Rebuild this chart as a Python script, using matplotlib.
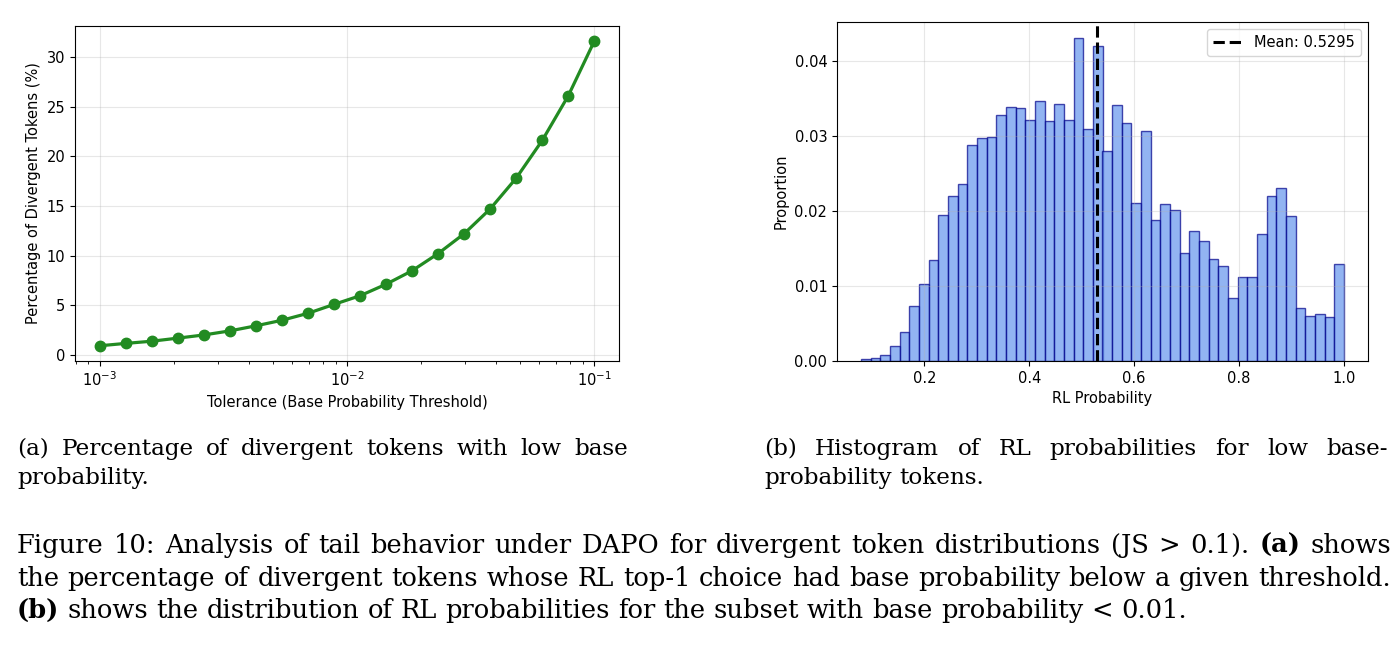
import numpy as np
import matplotlib
matplotlib.use("Agg")
import matplotlib.pyplot as plt

# (a) tolerance thresholds and % of divergent tokens below them
tolerance = [0.001, 0.001274, 0.001624, 0.002069, 0.002637, 0.003360, 0.004281,
             0.005456, 0.006952, 0.008859, 0.011288, 0.014384, 0.018330, 0.023357,
             0.029764, 0.037927, 0.048329, 0.061585, 0.078476, 0.1]
pct_divergent = [0.91, 1.15, 1.37, 1.68, 2.00, 2.41, 2.92, 3.48, 4.18, 5.08,
                 5.95, 7.11, 8.47, 10.2, 12.2, 14.7, 17.8, 21.6, 26.1, 31.6]

# (b) histogram of RL probabilities (50 bins, proportion per bin)
bin_lo = 0.0794
bin_hi = 1.0
proportion = [0.0002, 0.0004, 0.0008, 0.0020, 0.0039, 0.0073, 0.0102, 0.0135, 0.0194, 0.0220,
              0.0236, 0.0288, 0.0297, 0.0299, 0.0328, 0.0338, 0.0337, 0.0321, 0.0346, 0.0319,
              0.0342, 0.0321, 0.0430, 0.0309, 0.0420, 0.0280, 0.0341, 0.0317, 0.0210, 0.0306,
              0.0188, 0.0209, 0.0201, 0.0144, 0.0173, 0.0160, 0.0136, 0.0126, 0.0084, 0.0112,
              0.0112, 0.0169, 0.0220, 0.0230, 0.0193, 0.0071, 0.0060, 0.0062, 0.0058, 0.0129]
mean_rl = 0.5295

sub_a = ["(a) Percentage of divergent tokens with low base", "probability."]
sub_b = ["(b) Histogram of RL probabilities for low base-", "probability tokens."]
caption = ["Figure 10: Analysis of tail behavior under DAPO for divergent token distributions (JS > 0.1). **(a)** shows",
           "the percentage of divergent tokens whose RL top-1 choice had base probability below a given threshold.",
           "**(b)** shows the distribution of RL probabilities for the subset with base probability < 0.01."]

W, H = 1398, 661
fig = plt.figure(figsize=(W / 100, H / 100), dpi=100)
fs = 10.5


def px_axes(x0, y0, x1, y1):
    return fig.add_axes([x0 / W, 1 - y1 / H, (x1 - x0) / W, (y1 - y0) / H])


# left panel
ax1 = px_axes(75, 26, 619, 361)
ax1.plot(tolerance, pct_divergent, "o-", color="forestgreen", lw=2.3, markersize=7.5)
ax1.set_xscale("log")
ax1.set_xlabel("Tolerance (Base Probability Threshold)", fontsize=fs)
ax1.set_ylabel("Percentage of Divergent Tokens (%)", fontsize=fs)
ax1.tick_params(labelsize=fs)
ax1.grid(True, alpha=0.3)

# right panel
ax2 = px_axes(837, 22, 1368, 361)
edges = np.linspace(bin_lo, bin_hi, len(proportion) + 1)
centers = (edges[:-1] + edges[1:]) / 2
ax2.hist(centers, bins=edges, weights=proportion, color="cornflowerblue", alpha=0.7,
         edgecolor="darkblue", linewidth=1.0)
ax2.axvline(mean_rl, color="black", linestyle="--", lw=2.2, label=f"Mean: {mean_rl:.4f}")
ax2.set_xlabel("RL Probability", fontsize=fs)
ax2.set_ylabel("Proportion", fontsize=fs)
ax2.tick_params(labelsize=fs)
ax2.grid(True, alpha=0.3)
ax2.legend(loc="upper right", fontsize=fs)

# caption text, justified by hand
renderer = fig.canvas.get_renderer()
serif = "DejaVu Serif"


def text_width(s, size, bold=False):
    t = fig.text(0, 0, s, fontsize=size, family=serif, fontweight="bold" if bold else "normal")
    w = t.get_window_extent(renderer).width
    t.remove()
    return w


def tokens(line):
    out = []
    for w in line.split(" "):
        if w.startswith("**") and w.endswith("**"):
            out.append((w[2:-2], True))
        else:
            out.append((w, False))
    return out


def draw_line(line, x0, x1, y, size, justify):
    toks = tokens(line)
    widths = [text_width(w, size, b) for w, b in toks]
    if justify and len(toks) > 1:
        gap = (x1 - x0 - sum(widths)) / (len(toks) - 1)
    else:
        gap = text_width("a a", size) - text_width("aa", size)
    x = x0
    for (w, b), wd in zip(toks, widths):
        fig.text(x / W, 1 - y / H, w, fontsize=size, family=serif,
                 fontweight="bold" if b else "normal", ha="left", va="baseline")
        x += wd + gap


# fit sizes to the widths of the unjustified lines in the original
main_size = 10 * (1183 - 17) / text_width(caption[2].replace("**", ""), 10)
sub_size = 10 * (149 - 17) / text_width(sub_a[1], 10)

draw_line(sub_a[0], 17, 628, 455, sub_size, True)
draw_line(sub_a[1], 17, 628, 484, sub_size, False)
draw_line(sub_b[0], 764, 1388, 455, sub_size, True)
draw_line(sub_b[1], 764, 1388, 484, sub_size, False)
draw_line(caption[0], 17, 1391, 553, main_size, True)
draw_line(caption[1], 17, 1391, 586, main_size, True)
draw_line(caption[2], 17, 1391, 618, main_size, False)

fig.savefig("out.png", dpi=100)
